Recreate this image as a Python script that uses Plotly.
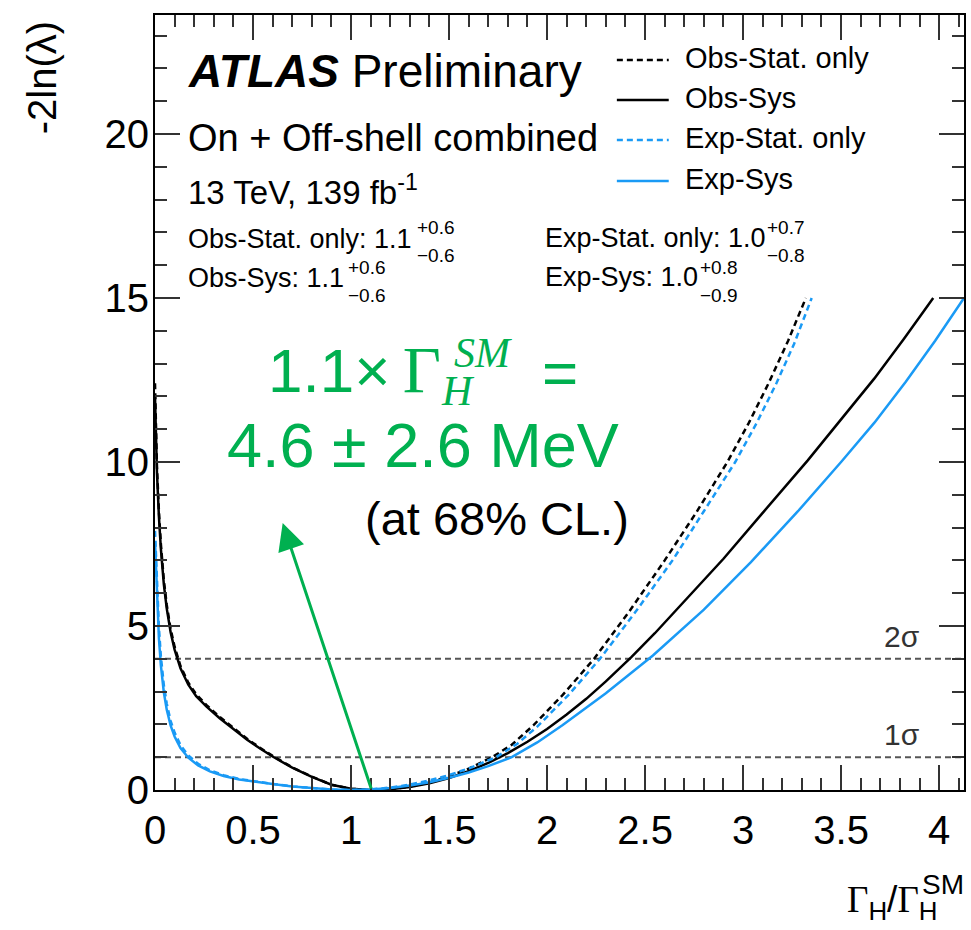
import plotly.graph_objects as go

# ---------------- data ----------------
obs_sys_x = [0.0, 0.005, 0.01, 0.02, 0.03, 0.045, 0.06, 0.08, 0.1, 0.13, 0.17, 0.21, 0.263, 0.33, 0.4,
             0.47, 0.54, 0.6, 0.7, 0.8, 0.9, 1.0, 1.1, 1.2, 1.3, 1.4, 1.5, 1.6, 1.7, 1.8, 1.9, 2.0,
             2.1, 2.2, 2.3, 2.43, 2.55, 2.7, 2.9, 3.1, 3.33, 3.5, 3.67, 3.82, 3.97]
obs_sys_y = [12.0, 10.54, 9.67, 8.33, 7.35, 6.28, 5.53, 4.8, 4.28, 3.71, 3.21, 2.86, 2.54, 2.19, 1.85,
             1.53, 1.25, 1.02, 0.68, 0.4, 0.16, 0.04, 0.0, 0.023, 0.092, 0.207, 0.367, 0.574, 0.826, 1.125,
             1.47, 1.86, 2.3, 2.78, 3.31, 4.05, 4.78, 5.75, 7.05, 8.45, 10.05, 11.3, 12.55, 13.75, 15.0]

obs_stat_x = [0.0, 0.005, 0.01, 0.02, 0.03, 0.045, 0.06, 0.08, 0.1, 0.13, 0.17, 0.21, 0.263, 0.33, 0.4,
              0.47, 0.54, 0.6, 0.7, 0.8, 0.9, 1.0, 1.1, 1.2, 1.3, 1.4, 1.5, 1.6, 1.72, 1.82, 1.93, 2.08,
              2.24, 2.42, 2.6, 2.76, 2.92, 3.03, 3.13, 3.23, 3.32]
obs_stat_y = [12.4, 10.75, 9.86, 8.5, 7.5, 6.4, 5.64, 4.9, 4.37, 3.78, 3.27, 2.92, 2.59, 2.23, 1.89,
              1.56, 1.27, 1.04, 0.69, 0.41, 0.16, 0.04, 0.0, 0.026, 0.104, 0.234, 0.416, 0.65, 1.0, 1.38,
              1.97, 2.9, 4.0, 5.45, 7.0, 8.45, 10.0, 11.2, 12.4, 13.7, 15.0]

exp_sys_x = [0.0, 0.005, 0.01, 0.02, 0.03, 0.045, 0.06, 0.08, 0.1, 0.13, 0.17, 0.22, 0.28, 0.35, 0.43,
             0.52, 0.6, 0.7, 0.8, 0.9, 1.0, 1.1, 1.2, 1.3, 1.4, 1.5, 1.6, 1.7, 1.82, 1.95, 2.08, 2.3,
             2.54, 2.8, 3.04, 3.28, 3.5, 3.67, 3.83, 3.98, 4.127]
exp_sys_y = [7.6, 6.77, 5.87, 4.62, 3.8, 2.98, 2.45, 1.96, 1.63, 1.28, 0.985, 0.749, 0.566, 0.426, 0.319,
             0.235, 0.181, 0.11, 0.055, 0.016, 0.0, 0.015, 0.059, 0.134, 0.238, 0.372, 0.535, 0.729, 1.0,
             1.45, 1.98, 2.95, 4.1, 5.5, 6.95, 8.5, 10.0, 11.2, 12.45, 13.7, 15.0]

exp_stat_x = [0.0, 0.005, 0.01, 0.02, 0.03, 0.045, 0.06, 0.08, 0.1, 0.13, 0.17, 0.22, 0.28, 0.35, 0.43,
              0.52, 0.6, 0.7, 0.8, 0.9, 1.0, 1.1, 1.2, 1.3, 1.4, 1.5, 1.6, 1.74, 1.85, 1.95, 2.11, 2.27,
              2.46, 2.64, 2.8, 2.96, 3.07, 3.17, 3.26, 3.35]
exp_stat_y = [7.9, 7.2, 6.25, 4.95, 4.07, 3.2, 2.63, 2.1, 1.75, 1.37, 1.05, 0.8, 0.6, 0.45, 0.335,
              0.245, 0.185, 0.11, 0.055, 0.016, 0.0, 0.018, 0.073, 0.164, 0.292, 0.456, 0.657, 1.0, 1.42,
              1.93, 2.9, 4.0, 5.5, 7.0, 8.5, 10.0, 11.2, 12.4, 13.6, 15.0]

sigma_levels = [1.0, 4.0]
sigma_labels = ["1σ", "2σ"]

legend_names = ["Obs-Stat. only", "Obs-Sys", "Exp-Stat. only", "Exp-Sys"]

x_range = [0.0, 4.127]
y_range = [0.0, 23.63]

# ---------------- styling ----------------
SANS = "Liberation Sans, Arial, sans-serif"
SERIF = "Liberation Serif, Times New Roman, serif"
BLACK = "#000000"
BLUE = "#1a9af5"
GREEN = "#00b050"
DOT = "6px,4px"
LW = 2.5

# plot area in pixels (for placing free text)
L, R, T, B = 155, 966, 15, 790
W_FIG, H_FIG = 971, 930


def px(x):
    return (x - L) / (R - L)


def py(y):
    return (B - y) / (B - T)


fig = go.Figure()

curves = [
    (obs_sys_x, obs_sys_y, BLACK, "solid", legend_names[1]),
    (obs_stat_x, obs_stat_y, BLACK, DOT, legend_names[0]),
    (exp_sys_x, exp_sys_y, BLUE, "solid", legend_names[3]),
    (exp_stat_x, exp_stat_y, BLUE, DOT, legend_names[2]),
]
for xs, ys, col, dash, name in curves:
    fig.add_trace(go.Scatter(x=xs, y=ys, mode="lines", name=name,
                             line=dict(color=col, width=LW, dash=dash, shape="linear"),
                             showlegend=False, cliponaxis=True))

# 1 sigma / 2 sigma reference lines
for lvl in sigma_levels:
    fig.add_shape(type="line", xref="paper", x0=0, x1=1, yref="y", y0=lvl, y1=lvl,
                  line=dict(color="#555555", width=2, dash=DOT), layer="below")

annotations = []
for lvl, lab in zip(sigma_levels, sigma_labels):
    annotations.append(dict(x=px(904), xref="paper", y=lvl, yref="y", text=lab, showarrow=False,
                            yanchor="bottom", yshift=4, xanchor="center",
                            font=dict(family=SANS, size=30, color="#333333")))

# manual legend
leg_y = [60, 100, 140, 181]
leg_style = [(BLACK, DOT), (BLACK, "solid"), (BLUE, DOT), (BLUE, "solid")]
for yy, (col, dash), name in zip(leg_y, leg_style, legend_names):
    fig.add_shape(type="line", xref="paper", yref="paper", x0=px(618), x1=px(670), y0=py(yy), y1=py(yy),
                  line=dict(color=col, width=LW, dash=dash))
    annotations.append(dict(x=px(684), y=py(yy - 2), xref="paper", yref="paper", text=name, showarrow=False,
                            xanchor="left", yanchor="middle", font=dict(family=SANS, size=29, color=BLACK)))


def txt(x, y, text, size, color=BLACK, family=SANS, xanchor="left", yanchor="middle", **kw):
    d = dict(x=px(x), y=py(y), xref="paper", yref="paper", text=text, showarrow=False,
             xanchor=xanchor, yanchor=yanchor, font=dict(family=family, size=size, color=color))
    d.update(kw)
    annotations.append(d)


# ATLAS label block
txt(186, 71, "<b><i>ATLAS</i></b> Preliminary", 46)
txt(186, 138, "On + Off-shell combined", 38)
txt(186, 190, "13 TeV, 139 fb<sup>-1</sup>", 33)

# fit results
txt(186, 239, "Obs-Stat. only: 1.1", 27)
txt(416, 228, "+0.6", 19)
txt(416, 256, "−0.6", 19)
txt(186, 278, "Obs-Sys: 1.1", 27)
txt(346, 267, "+0.6", 19)
txt(346, 295, "−0.6", 19)
txt(544, 238, "Exp-Stat. only: 1.0", 27)
txt(767, 227, "+0.7", 19)
txt(767, 256, "−0.8", 19)
txt(544, 277, "Exp-Sys: 1.0", 27)
txt(699, 267, "+0.8", 19)
txt(699, 295, "−0.9", 19)

# green statement
txt(266, 370, "1.1×\u2009<span style='font-family:Liberation Serif;font-size:66px'>Γ</span>", 62, color=GREEN)
txt(440, 391, "<i>H</i>", 42, color=GREEN, family=SERIF)
txt(453, 353, "<i>SM</i>", 42, color=GREEN, family=SERIF)
txt(541, 372, "=", 62, color=GREEN)
txt(424, 445, "4.6 ± 2.6 MeV", 63, color=GREEN, xanchor="center")
txt(498, 518, "(at 68% CL.)", 47, xanchor="center")

# arrow
annotations.append(dict(x=px(283), y=py(523), xref="paper", yref="paper", text="", showarrow=True,
                        ax=372 - 283, ay=790 - 523, axref="pixel", ayref="pixel",
                        arrowhead=2, arrowsize=1.8, arrowwidth=3, arrowcolor=GREEN, standoff=0, startstandoff=0))

# axis titles
txt(42, 78, "-2ln(λ)", 40, xanchor="center", textangle=-90)
txt(941, 902, "<span style='font-family:Liberation Serif'>Γ</span><sub>H</sub>/"
              "<span style='font-family:Liberation Serif'>Γ</span><sub>H</sub>", 37, xanchor="right")
txt(922, 884, "SM", 28)

fig.update_layout(
    width=W_FIG, height=H_FIG,
    margin=dict(l=L, r=W_FIG - R, t=T, b=H_FIG - B, pad=0),
    paper_bgcolor="white", plot_bgcolor="white",
    showlegend=False,
    annotations=annotations,
    xaxis=dict(range=x_range, showgrid=False, zeroline=False, showline=True, linecolor=BLACK, linewidth=2,
               mirror="allticks", ticks="inside", ticklen=25, tickwidth=2, tickcolor="#333333",
               tick0=0, dtick=0.5, tickformat="~g",
               minor=dict(ticks="inside", ticklen=12, tickwidth=2, tickcolor="#333333", dtick=0.1, showgrid=False),
               tickfont=dict(family=SANS, size=40, color=BLACK), ticklabelstandoff=4),
    yaxis=dict(range=y_range, showgrid=False, zeroline=False, showline=True, linecolor=BLACK, linewidth=2,
               mirror="allticks", ticks="inside", ticklen=25, tickwidth=2, tickcolor="#333333",
               tick0=0, dtick=5,
               minor=dict(ticks="inside", ticklen=12, tickwidth=2, tickcolor="#333333", dtick=1, showgrid=False),
               tickfont=dict(family=SANS, size=40, color=BLACK), ticklabelstandoff=-4),
)

fig.write_html("out.html")
